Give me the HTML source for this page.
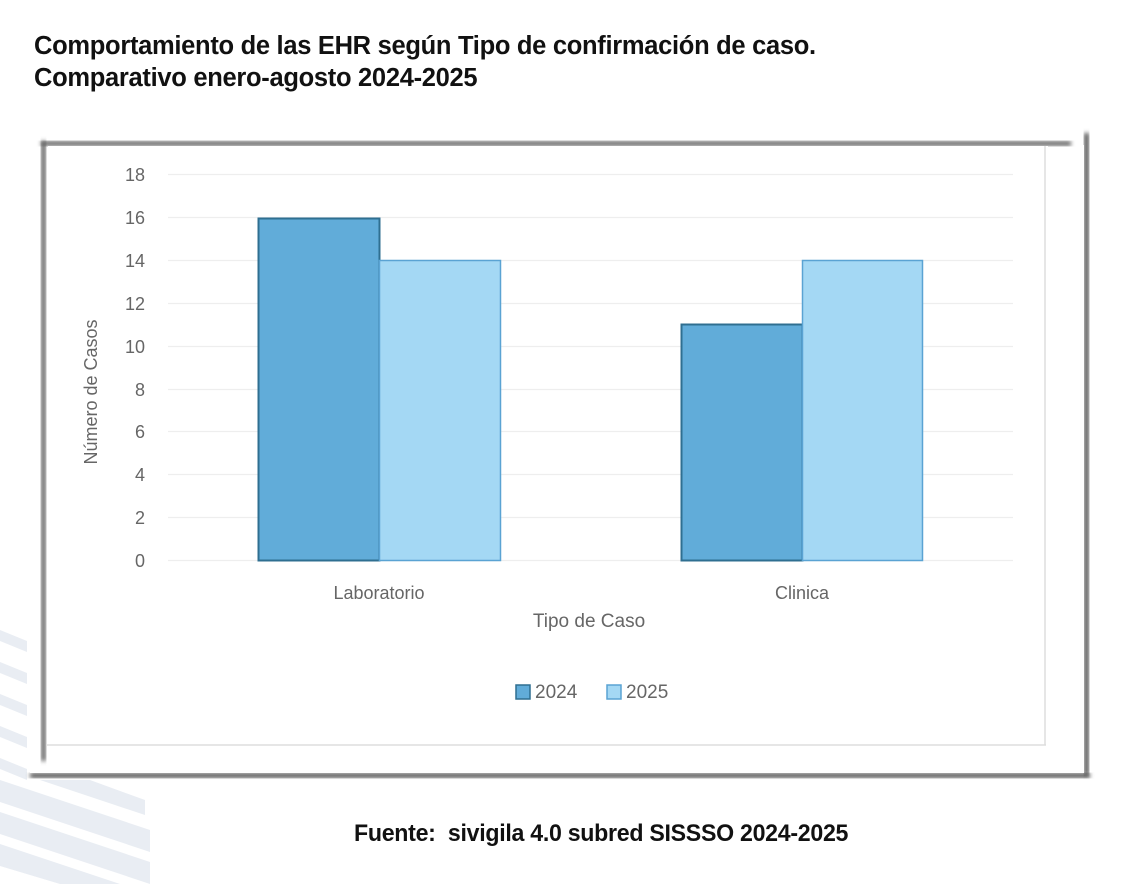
<!DOCTYPE html>
<html><head><meta charset="utf-8"><style>
body{margin:0;width:1130px;height:884px;background:#fff;overflow:hidden;position:relative;font-family:"Liberation Sans",sans-serif}
.t{position:absolute;left:34px;font-size:25.5px;font-weight:bold;color:#111;transform:scaleX(1.0);transform-origin:left;letter-spacing:-0.3px;white-space:nowrap}
</style></head><body>
<svg width="1130" height="884" style="position:absolute;left:0;top:0">
<defs><filter id="b"><feGaussianBlur stdDeviation="2"/></filter></defs>
<g fill="#e9edf3">
<polygon points="0,630 27,641 27,652 0,641"/>
<polygon points="0,662 27,673 27,684 0,673"/>
<polygon points="0,694 27,705 27,716 0,705"/>
<polygon points="0,726 27,737 27,748 0,737"/>
<polygon points="0,758 27,769 27,780 0,769"/>
<polygon points="0,812 150,862 150,884 0,834"/>
<polygon points="0,780 150,830 150,852 0,802"/>
<polygon points="40,780 145,815 145,800 90,780"/>
<polygon points="0,844 120,884 60,884 0,866"/>
</g>
<rect x="30" y="773" width="1060" height="5" fill="#555" filter="url(#b)"/>
<rect x="1084" y="133" width="5" height="642" fill="#555" filter="url(#b)"/>
<rect x="30" y="145" width="1054" height="628" fill="#fff"/>
<rect x="41" y="141" width="1030" height="5" fill="#666" filter="url(#b)"/>
<rect x="41" y="141" width="5" height="620" fill="#666" filter="url(#b)"/>
<rect x="48" y="146" width="1000" height="600" fill="#fff"/>
<line x1="47" y1="745" x2="1046" y2="745" stroke="#ddd" stroke-width="1.5"/>
<line x1="1045" y1="146" x2="1045" y2="745" stroke="#ddd" stroke-width="1.5"/>
<g stroke="#eee" stroke-width="1.2">
<line x1="168" x2="1013" y1="174.5" y2="174.5"/><line x1="168" x2="1013" y1="217.5" y2="217.5"/>
<line x1="168" x2="1013" y1="260.5" y2="260.5"/><line x1="168" x2="1013" y1="303.5" y2="303.5"/>
<line x1="168" x2="1013" y1="346.5" y2="346.5"/><line x1="168" x2="1013" y1="389.5" y2="389.5"/>
<line x1="168" x2="1013" y1="431.5" y2="431.5"/><line x1="168" x2="1013" y1="474.5" y2="474.5"/>
<line x1="168" x2="1013" y1="517.5" y2="517.5"/><line x1="168" x2="1013" y1="560.5" y2="560.5"/>
</g>
<g font-family="Liberation Sans" font-size="18" fill="#666" text-anchor="end">
<text x="145" y="181">18</text><text x="145" y="224">16</text><text x="145" y="267">14</text>
<text x="145" y="310">12</text><text x="145" y="353">10</text><text x="145" y="396">8</text>
<text x="145" y="438">6</text><text x="145" y="481">4</text><text x="145" y="524">2</text><text x="145" y="567">0</text>
</g>
<rect x="258.5" y="218.5" width="121" height="342" fill="#61acd9" stroke="#2f6f91" stroke-width="2"/>
<rect x="379.5" y="260.5" width="121" height="300" fill="#a4d8f4" stroke="#5aa3d3" stroke-width="1.5"/>
<rect x="681.5" y="324.5" width="121" height="236" fill="#61acd9" stroke="#2f6f91" stroke-width="2"/>
<rect x="802.5" y="260.5" width="120" height="300" fill="#a4d8f4" stroke="#5aa3d3" stroke-width="1.5"/>
<g font-family="Liberation Sans" font-size="18" fill="#666" text-anchor="middle">
<text x="379" y="599">Laboratorio</text><text x="802" y="599">Clinica</text>
<text x="589" y="627" font-size="19">Tipo de Caso</text>
<text transform="translate(97,392) rotate(-90)" font-size="18">Número de Casos</text>
</g>
<rect x="516" y="685" width="14" height="14" fill="#61acd9" stroke="#2f6f91" stroke-width="1.5"/>
<text x="535" y="698" font-family="Liberation Sans" font-size="19" fill="#666">2024</text>
<rect x="607" y="685" width="14" height="14" fill="#a4d8f4" stroke="#5aa3d3" stroke-width="1.5"/>
<text x="626" y="698" font-family="Liberation Sans" font-size="19" fill="#666">2025</text>
</svg>
<div class="t" style="top:32px">Comportamiento de las EHR según Tipo de confirmación de caso.</div>
<div class="t" style="top:64px">Comparativo enero-agosto 2024-2025</div>
<div class="t" style="left:354px;top:820px;font-size:24px;transform:scaleX(0.965)">Fuente:&nbsp; sivigila 4.0 subred SISSSO 2024-2025</div>
</body></html>
